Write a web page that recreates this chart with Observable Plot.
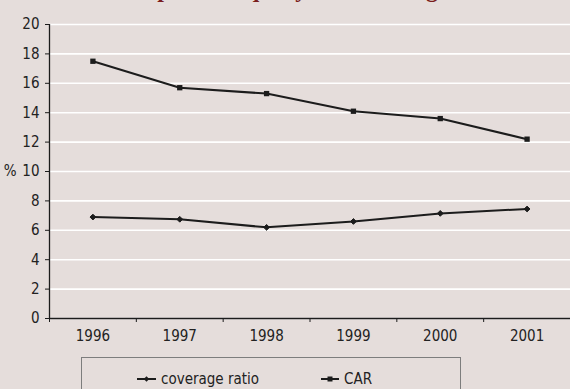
<!DOCTYPE html>
<html>
<head>
<meta charset="utf-8">
<script src="https://cdn.jsdelivr.net/npm/d3@7"></script>
<script src="https://cdn.jsdelivr.net/npm/@observablehq/plot@0.6"></script>
<style>
  html, body { margin: 0; padding: 0; }
  body { width: 570px; height: 389px; overflow: hidden; background: #e5dddb; position: relative;
         font-family: 'Liberation Sans Narrow', 'Arial Narrow', 'DejaVu Sans Condensed', sans-serif; }
  #title { position: absolute; left: 128px; top: -23px; font: bold 24px 'Liberation Serif', 'DejaVu Serif', serif;
           color: #7a1d1d; white-space: nowrap; line-height: 24px; }
  #chart { position: absolute; left: 0; top: 0; }
  #legend { position: absolute; left: 81px; top: 357px; width: 378px; height: 50px; border: 1px solid #7d7d7d;
            font-size: 15px; color: #222; }
  .item { position: absolute; top: 12px; display: flex; align-items: center; gap: 5px; white-space: nowrap; }
</style>
</head>
<body>
<div id="title">Capital adequacy and coverage ratios</div>
<div id="chart"></div>
<div id="legend">
  <div class="item" style="left:55px"><svg width="19" height="10"><line x1="0" x2="19" y1="5" y2="5" stroke="#1c1c1c" stroke-width="2"/><path d="M9.5,2.2L12.3,5L9.5,7.8L6.7,5Z" fill="#1c1c1c"/></svg><span>coverage ratio</span></div>
  <div class="item" style="left:239px"><svg width="18" height="10"><line x1="0" x2="18" y1="5" y2="5" stroke="#1c1c1c" stroke-width="2"/><rect x="6.5" y="2.5" width="5" height="5" fill="#1c1c1c"/></svg><span>CAR</span></div>
</div>
<script>
const years = [1996, 1997, 1998, 1999, 2000, 2001];
const car = [17.5, 15.7, 15.3, 14.1, 13.6, 12.2];
const coverage = [6.9, 6.75, 6.2, 6.6, 7.15, 7.45];
const yTicks = [0, 2, 4, 6, 8, 10, 12, 14, 16, 18, 20];

const carData = years.map((y, i) => ({year: y, value: car[i]}));
const covData = years.map((y, i) => ({year: y, value: coverage[i]}));
const bounds = [...years.map(y => y - 0.5), years[years.length - 1] + 0.5];
const ink = "#1c1c1c";

const chart = Plot.plot({
  width: 570,
  height: 350,
  marginLeft: 49,
  marginRight: 0,
  marginTop: 24,
  marginBottom: 32,
  style: {background: "transparent", fontFamily: "'Liberation Sans Narrow', 'Arial Narrow', 'DejaVu Sans Condensed', sans-serif", fontSize: "15px", color: "#222"},
  x: {domain: [bounds[0], bounds[bounds.length - 1]]},
  y: {domain: [0, 20]},
  marks: [
    Plot.gridY(yTicks, {stroke: "#ffffff", strokeOpacity: 1, strokeWidth: 1.6}),
    Plot.axisY(yTicks, {tickSize: 4, tickPadding: 6, label: null, stroke: ink, fill: "#222"}),
    Plot.axisX(bounds, {tickSize: 4, text: null, label: null, stroke: ink}),
    Plot.axisX(years, {tickSize: 0, tickPadding: 12, tickFormat: d => String(d), label: null, fill: "#222"}),
    Plot.ruleX([bounds[0]], {stroke: ink, strokeWidth: 1.3}),
    Plot.ruleY([0], {stroke: ink, strokeWidth: 1.3}),
    Plot.text(["%"], {x: () => bounds[0], y: () => 10, dx: -34, textAnchor: "end", dx: -33, fill: "#222"}),
    Plot.line(carData, {x: "year", y: "value", stroke: ink, strokeWidth: 2}),
    Plot.line(covData, {x: "year", y: "value", stroke: ink, strokeWidth: 2}),
    Plot.dot(carData, {x: "year", y: "value", symbol: "square", r: 3, fill: ink, stroke: null}),
    Plot.dot(covData, {x: "year", y: "value", symbol: "diamond2", r: 2.6, fill: ink, stroke: ink, strokeWidth: 1})
  ]
});
document.getElementById("chart").appendChild(chart);
</script>
</body>
</html>
